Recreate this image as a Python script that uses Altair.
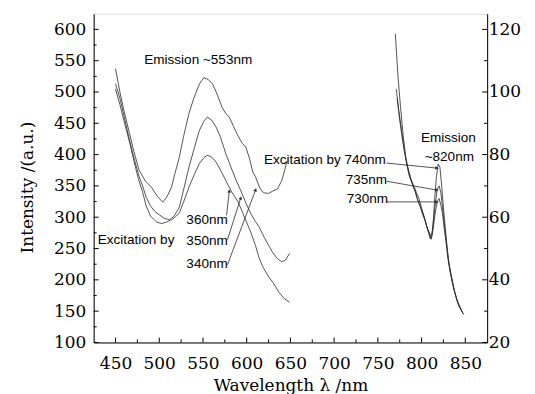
import math
import altair as alt
import pandas as pd

# ---------------- data ----------------
# left group: emission ~553 nm (left axis)
wl_340 = [450, 455, 460, 466, 471, 477, 484, 491, 498, 504, 509, 514, 518, 523, 528, 534, 540, 546, 551, 556,
          561, 566, 572, 576, 580, 585, 590, 595, 599, 603, 607, 610, 614, 617, 620, 625, 630, 635, 640, 644, 646]
int_340 = [537, 500, 468, 434, 405, 375, 358, 348, 333, 324, 333, 348, 370, 396, 430, 466, 492, 513, 523, 520,
           513, 497, 475, 466, 460, 445, 430, 418, 412, 395, 372, 365, 350, 342, 339, 338, 342, 345, 358, 378, 390]

wl_350 = [450, 455, 460, 466, 471, 477, 481, 485, 490, 495, 500, 506, 512, 517, 523, 528, 534, 540, 546, 551,
          555, 560, 565, 570, 576, 582, 588, 594, 599, 605, 610, 614, 620, 625, 630, 635, 640, 644, 649]
int_350 = [513, 490, 460, 423, 395, 365, 350, 332, 318, 309, 304, 298, 296, 302, 316, 345, 380, 410, 439, 453,
           460, 455, 444, 428, 402, 380, 359, 340, 323, 305, 293, 285, 268, 255, 243, 234, 229, 231, 242]

wl_360 = [450, 455, 460, 466, 471, 476, 481, 485, 490, 497, 503, 508, 514, 518, 523, 528, 534, 540, 546, 551,
          555, 560, 565, 572, 577, 583, 590, 599, 605, 610, 614, 618, 625, 630, 637, 643, 649]
int_360 = [505, 480, 452, 420, 390, 362, 340, 318, 302, 292, 290, 292, 296, 300, 307, 325, 348, 368, 386, 395,
           399, 396, 388, 370, 356, 340, 325, 295, 275, 255, 236, 222, 205, 196, 180, 170, 164]

# right group: emission ~820 nm (right axis)
wl_740 = [770, 773, 776, 779, 782, 785, 788, 791, 794, 797, 800, 803, 806, 809, 811, 813, 815, 817, 819, 821,
          823, 825, 827, 829, 831, 834, 837, 840, 843, 846, 848]
int_740 = [118.6, 105, 95, 86, 79, 75, 72, 70, 68, 66, 63, 60, 57, 55, 53, 57, 66, 73, 77, 76,
           70, 63, 57, 51, 46, 41, 37, 34, 32, 30, 29]

wl_735 = [771, 774, 777, 780, 783, 786, 789, 792, 795, 798, 801, 804, 807, 810, 812, 814, 816, 818, 820, 822,
          824, 826, 828, 830, 832, 835, 838, 841, 844, 847]
int_735 = [101, 94, 88, 82, 77, 73, 71, 69, 66, 64, 61, 59, 56, 54, 55, 60, 65, 69, 70, 68,
           63, 58, 53, 48, 44, 40, 36, 33, 31, 29.5]

wl_730 = [772, 775, 778, 781, 784, 787, 790, 793, 796, 799, 802, 805, 808, 810, 812, 814, 816, 818, 820, 822,
          824, 826, 828, 830, 833, 836, 839, 842, 845, 848]
int_730 = [98, 91, 85, 80, 76, 73, 70, 68, 65, 63, 61, 58, 55, 53, 54, 58, 62, 65, 66, 64,
           61, 56, 52, 47, 42, 38, 35, 32, 30.5, 29]

# axis ticks
x_major = [450, 500, 550, 600, 650, 700, 750, 800, 850]
x_minor = [475, 525, 575, 625, 675, 725, 775, 825]
yl_major = [100, 150, 200, 250, 300, 350, 400, 450, 500, 550, 600]
yl_minor = [125, 175, 225, 275, 325, 375, 425, 475, 525, 575]
yr_major = [20, 40, 60, 80, 100, 120]
yr_minor = [30, 50, 70, 90, 110]

# annotations (data coordinates)
left_labels = ["Emission ~553nm", "Excitation by", "360nm", "350nm", "340nm"]
left_label_x = [544.6, 429.6, 531, 531, 531]
left_label_y = [551, 264, 296, 262, 226]
left_label_align = ["center", "left", "left", "left", "left"]

left_lead_x1 = [577, 578, 578]
left_lead_y1 = [303, 264, 224]
left_lead_x2 = [580, 593, 610]
left_lead_y2 = [341, 330, 343]

right_labels = ["Excitation by 740nm", "735nm", "730nm", "Emission", "~820nm"]
right_label_x = [619.8, 713.2, 714.4, 830.6, 831.7]
right_label_y = [78.2, 71.9, 65.8, 85.2, 79.2]
right_label_align = ["left", "left", "left", "center", "center"]

right_lead_x1 = [760, 760, 760]
right_lead_y1 = [77.3, 71.5, 64.9]
right_lead_x2 = [817, 817, 817]
right_lead_y2 = [75.7, 68.7, 64.9]

# ---------------- build ----------------
W, H = 395, 330
XDOM = [425, 875]
YL = [100, 625]
YR = [20, 125]
LINE = "#2a2a2a"
SERIF = "DejaVu Serif"
SANS = "Liberation Sans"

xs = alt.Scale(domain=XDOM, nice=False, zero=False)
yls = alt.Scale(domain=YL, nice=False, zero=False)
yrs = alt.Scale(domain=YR, nice=False, zero=False)

def series_df(names, wls, vals):
    rows = []
    for n, w, v in zip(names, wls, vals):
        for a, b in zip(w, v):
            rows.append({"s": n, "wl": a, "v": b})
    return pd.DataFrame(rows)

left_df = series_df(["340nm", "350nm", "360nm"], [wl_340, wl_350, wl_360], [int_340, int_350, int_360])
right_df = series_df(["740nm", "735nm", "730nm"], [wl_740, wl_735, wl_730], [int_740, int_735, int_730])

x_axis = alt.Axis(values=x_major, ticks=False, tickSize=0, labelFont=SERIF, labelFontSize=17,
                  labelColor="black", labelPadding=26, labelBaseline="alphabetic", labelOverlap=False,
                  title="Wavelength λ /nm", titleFont=SERIF, titleFontSize=17, titleFontWeight="normal",
                  titleColor="black", titleY=48, titleBaseline="alphabetic",
                  domainColor="black", grid=False)
yl_axis = alt.Axis(values=yl_major, ticks=False, tickSize=0, orient="left", labelFont=SERIF,
                   labelFontSize=17, labelColor="black", labelPadding=8, labelOverlap=False,
                   title="Intensity /(a.u.)", titleFont=SERIF, titleFontSize=17, titleFontWeight="normal",
                   titleColor="black", titleX=-61, titleY=174, titleBaseline="alphabetic",
                   domainColor="black", grid=False)
yr_axis = alt.Axis(values=yr_major, ticks=False, tickSize=0, orient="right", labelFont=SERIF,
                   labelFontSize=17, labelColor="black", labelPadding=1, labelOverlap=False, title=None,
                   domainColor="black", grid=False)

def y_axis_for(scale):
    return yl_axis if scale is yls else yr_axis

left_lines = alt.Chart(left_df).mark_line(color=LINE, strokeWidth=0.8).encode(
    x=alt.X("wl:Q", scale=xs, axis=x_axis, title="Wavelength λ /nm"),
    y=alt.Y("v:Q", scale=yls, axis=yl_axis, title="Intensity /(a.u.)"),
    detail="s:N",
)

def tick_rules_x(vals, length):
    return alt.Chart(pd.DataFrame({"t": vals})).mark_rule(color="black", strokeWidth=1).encode(
        x=alt.X("t:Q", scale=xs, axis=x_axis, title="Wavelength λ /nm"),
        y=alt.value(H), y2=alt.value(H - length))

def tick_rules_y(vals, scale, length, side):
    x0 = 0 if side == "left" else W
    x1 = length if side == "left" else W - length
    return alt.Chart(pd.DataFrame({"t": vals})).mark_rule(color="black", strokeWidth=1).encode(
        y=alt.Y("t:Q", scale=scale, axis=y_axis_for(scale)), x=alt.value(x0), x2=alt.value(x1))

def arrow_layers(x1, y1, x2, y2, scale, ydom):
    ppx = W / (XDOM[1] - XDOM[0])
    ppy = H / (ydom[1] - ydom[0])
    ang = []
    for a, b, c, d in zip(x1, y1, x2, y2):
        dx = (c - a) * ppx
        dy = -(d - b) * ppy
        ang.append(math.degrees(math.atan2(dx, -dy)) % 360)
    df = pd.DataFrame({"x1": x1, "y1": y1, "x2": x2, "y2": y2, "ang": ang})
    rules = alt.Chart(df).mark_rule(color=LINE, strokeWidth=0.8).encode(
        x=alt.X("x1:Q", scale=xs, axis=x_axis, title="Wavelength λ /nm"),
        y=alt.Y("y1:Q", scale=scale, axis=y_axis_for(scale)),
        x2="x2:Q", y2="y2:Q")
    heads = alt.Chart(df).mark_point(shape="triangle", filled=True, color=LINE, size=14, opacity=1).encode(
        x=alt.X("x2:Q", scale=xs, axis=x_axis, title="Wavelength λ /nm"),
        y=alt.Y("y2:Q", scale=scale, axis=y_axis_for(scale)),
        angle=alt.Angle("ang:Q", scale=None))
    return [rules, heads]

def text_layers(labels, xv, yv, aligns, scale):
    df = pd.DataFrame({"t": labels, "x": xv, "y": yv, "a": aligns})
    out = []
    for al in ["left", "center"]:
        sub = df[df["a"] == al]
        if len(sub) == 0:
            continue
        out.append(alt.Chart(sub).mark_text(font=SANS, fontSize=13.6, color="black", align=al,
                                            baseline="middle").encode(
            x=alt.X("x:Q", scale=xs, axis=x_axis, title="Wavelength λ /nm"),
            y=alt.Y("y:Q", scale=scale, axis=y_axis_for(scale)), text="t:N"))
    return out

left_group = alt.layer(
    left_lines,
    tick_rules_x(x_major, 5), tick_rules_x(x_minor, 3),
    tick_rules_y(yl_major, yls, 5, "left"), tick_rules_y(yl_minor, yls, 3, "left"),
    *arrow_layers(left_lead_x1, left_lead_y1, left_lead_x2, left_lead_y2, yls, YL),
    *text_layers(left_labels, left_label_x, left_label_y, left_label_align, yls),
)

right_lines = alt.Chart(right_df).mark_line(color=LINE, strokeWidth=0.8).encode(
    x=alt.X("wl:Q", scale=xs, axis=x_axis, title="Wavelength λ /nm"),
    y=alt.Y("v:Q", scale=yrs, axis=yr_axis),
    detail="s:N",
)

right_group = alt.layer(
    right_lines,
    tick_rules_y(yr_major, yrs, 5, "right"), tick_rules_y(yr_minor, yrs, 3, "right"),
    *arrow_layers(right_lead_x1, right_lead_y1, right_lead_x2, right_lead_y2, yrs, YR),
    *text_layers(right_labels, right_label_x, right_label_y, right_label_align, yrs),
)

chart = alt.layer(left_group, right_group).resolve_scale(y="independent").properties(
    width=W, height=H,
    autosize=alt.AutoSizeParams(type="none"),
    padding={"left": 86, "top": 5, "right": 40, "bottom": 52},
).configure_view(stroke="black", strokeWidth=1).configure(background="white")

chart.save("out.html", embed_options={"renderer": "svg", "actions": False})
